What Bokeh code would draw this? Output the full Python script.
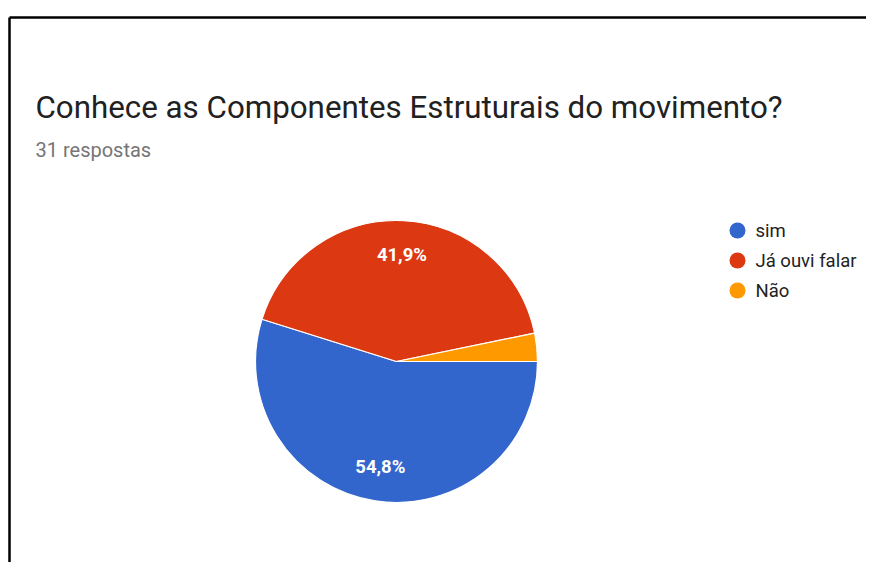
import numpy as np
from bokeh.plotting import figure
from bokeh.models import Range1d
from bokeh.core.properties import value
from bokeh.embed import file_html
from bokeh.resources import INLINE

title = "Conhece as Componentes Estruturais do movimento?"
subtitle = "31 respostas"
categories = ["sim", "Já ouvi falar", "Não"]
counts = [17, 13, 1]
pct_labels = ["54,8%", "41,9%", ""]
colors = ["#3366CC", "#DC3912", "#FF9900"]

W, H = 866, 562


def X(px):
    return px


def Y(py):
    return H - py


p = figure(width=W, height=H, x_range=Range1d(0, W), y_range=Range1d(0, H),
           output_backend="svg", toolbar_location=None, min_border=0)
p.axis.visible = False
p.grid.visible = False
p.outline_line_color = None
p.background_fill_color = "white"

# frame
p.segment(x0=[X(9), X(9)], y0=[Y(17), Y(17)], x1=[X(9), X(900)], y1=[Y(600), Y(17)],
          line_color="black", line_width=2.5)

# title
p.text(x=[X(35)], y=[Y(107)], text=[title], text_font=value("Roboto"),
       text_font_size="31.3px", text_color="#212121", text_baseline="alphabetic")
p.text(x=[X(35)], y=[Y(149)], text=[subtitle], text_font=value("Roboto"),
       text_font_size="20px", text_color="#757575", text_baseline="alphabetic")

# pie
total = sum(counts)
fr = np.array(counts) / total
cum = np.concatenate([[0], np.cumsum(fr)])
ends = -2 * np.pi * cum[:-1]
starts = -2 * np.pi * cum[1:]
cx, cy, R = X(396), Y(361), 141
p.wedge(x=cx, y=cy, radius=R, start_angle=starts, end_angle=ends,
        fill_color=colors, line_color="white", line_width=1.2)

mid = (starts + ends) / 2
lr = 107
p.text(x=cx + lr * np.cos(mid), y=cy + lr * np.sin(mid), text=pct_labels,
       text_font=value("Roboto"), text_font_size="18.5px", text_color="white",
       text_font_style="bold", text_align="center", text_baseline="middle")

# legend
ly = [Y(230 + 30 * i) for i in range(len(categories))]
p.scatter(x=[X(737)] * len(categories), y=ly, size=16, marker="circle",
          fill_color=colors, line_color=None)
p.text(x=[X(755)] * len(categories), y=ly, text=categories, text_font=value("Roboto"),
       text_font_size="18.5px", text_color="#222222", text_baseline="middle")

open("out.html", "w").write(file_html(p, INLINE))
